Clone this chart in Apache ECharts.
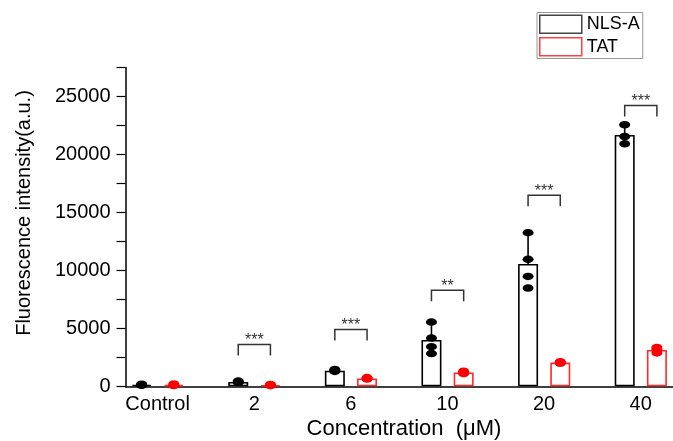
<!DOCTYPE html>
<html>
<head>
<meta charset="utf-8">
<script src="https://cdn.jsdelivr.net/npm/echarts@6/dist/echarts.min.js"></script>
<style>
html,body{margin:0;padding:0;background:#fff;}
#chart{width:673px;height:441px;}
</style>
</head>
<body>
<div id="chart"></div>
<script>
// ---- data ----
var categories = ['Control', '2', '6', '10', '20', '40'];
var seriesNames = ['NLS-A', 'TAT'];
var nlsMean = [130, 380, 1350, 4000, 10550, 21680];
var nlsSD   = [40, 70, 110, 1500, 2700, 850];
var tatMean = [120, 100, 680, 1200, 2050, 3130];
var tatSD   = [40, 40, 60, 90, 70, 200];
var nlsPoints = [[180, 130, 90], [450, 380, 320], [1450, 1350, 1280], [5540, 4160, 3420, 2820], [13250, 10950, 9480, 8470], [22560, 21550, 20920]];
var tatPoints = [[200, 120, 60], [160, 100, 50], [750, 680, 620], [1300, 1220, 1100], [2120, 2060, 1980], [3350, 3180, 2880]];
var sigY = [null, 3600, 4910, 8280, 16470, 24220];
var sigLabel = ['', '***', '***', '**', '***', '***'];
var yTicks = [0, 5000, 10000, 15000, 20000, 25000];

// ---- build slots: NLS, TAT, gap per group ----
var slots = [];
categories.forEach(function (c, i) {
  slots.push(c + ' NLS');
  slots.push(c + ' TAT');
  if (i < categories.length - 1) slots.push(c + ' gap');
});
var nlsBar = slots.map(function () { return '-'; });
var tatBar = slots.map(function () { return '-'; });
var nlsScatter = [], tatScatter = [], errData = [], sigData = [];
categories.forEach(function (c, i) {
  var a = i * 3, b = i * 3 + 1;
  nlsBar[a] = nlsMean[i];
  tatBar[b] = tatMean[i];
  nlsPoints[i].forEach(function (v) { nlsScatter.push([a, v]); });
  tatPoints[i].forEach(function (v) { tatScatter.push([b, v]); });
  errData.push([a, nlsMean[i], nlsSD[i], 0]);
  errData.push([b, tatMean[i], tatSD[i], 1]);
  if (sigY[i] != null) sigData.push([a, b, sigY[i], i]);
});

var FONT = 'Liberation Sans, Arial, sans-serif';
var chart = echarts.init(document.getElementById('chart'), null, {renderer: 'canvas'});
var errColors = ['#000000', '#ff2020'];

chart.setOption({
  animation: false,
  backgroundColor: '#ffffff',
  grid: {left: 125.5, right: -1, top: 67.5, bottom: 54.7, containLabel: false},
  legend: {
    orient: 'vertical',
    left: 537, top: 12.5,
    itemWidth: 42, itemHeight: 18, itemGap: 3,
    padding: [2, 3, 2, 2],
    borderColor: '#999', borderWidth: 1,
    icon: 'rect',
    textStyle: {fontFamily: FONT, fontSize: 18, color: '#000'},
    data: [
      {name: seriesNames[0], itemStyle: {color: '#fff', borderColor: '#444', borderWidth: 1.5}},
      {name: seriesNames[1], itemStyle: {color: '#fff', borderColor: '#ff4040', borderWidth: 1.5}}
    ]
  },
  xAxis: {
    type: 'category',
    data: slots,
    boundaryGap: true,
    axisLine: {lineStyle: {color: '#000', width: 1.5}},
    axisTick: {alignWithLabel: true, interval: 0, length: 5, lineStyle: {color: '#000', width: 1.2}},
    axisLabel: {
      interval: 0,
      margin: 8,
      fontFamily: FONT, fontSize: 20, color: '#000',
      padding: [0, 0, 0, 32],
      formatter: function (v, idx) { return idx % 3 === 0 ? categories[idx / 3] : ''; }
    },
    splitLine: {show: false}
  },
  yAxis: {
    type: 'value',
    min: 0, max: 27500, interval: 2500,
    axisLine: {show: true, lineStyle: {color: '#000', width: 1.5}},
    axisTick: {show: true, length: 9, lineStyle: {color: '#000', width: 1.2}},
    axisLabel: {
      margin: 15,
      fontFamily: FONT, fontSize: 20, color: '#000',
      formatter: function (v) { return yTicks.indexOf(v) >= 0 ? String(v) : ''; }
    },
    splitLine: {show: false}
  },
  graphic: [
    {type: 'text', x: 24, y: 213, rotation: Math.PI / 2,
     style: {text: 'Fluorescence intensity(a.u.)', font: '20px ' + FONT, fill: '#000', align: 'center', verticalAlign: 'middle'}},
    {type: 'text', x: 404, y: 429,
     style: {text: 'Concentration  (μM)', font: '22px ' + FONT, fill: '#000', align: 'center', verticalAlign: 'middle'}}
  ],
  series: [
    {name: seriesNames[0], type: 'bar', data: nlsBar, barWidth: 20, barGap: '-100%', z: 2,
     itemStyle: {color: 'rgba(255,255,255,0)', borderColor: '#000', borderWidth: 1.6}},
    {name: seriesNames[1], type: 'bar', data: tatBar, barWidth: 20, barGap: '-100%', z: 2,
     itemStyle: {color: 'rgba(255,255,255,0)', borderColor: '#ff2a2a', borderWidth: 1.6}},
    {name: 'err', type: 'custom', z: 3, clip: false, data: errData,
     renderItem: function (params, api) {
       var x = api.value(0), m = api.value(1), s = api.value(2), ci = api.value(3);
       var p = api.coord([x, m]), t = api.coord([x, m + s]);
       var st = {stroke: errColors[ci], lineWidth: 1.6};
       return {type: 'group', children: [
         {type: 'line', shape: {x1: p[0], y1: p[1], x2: t[0], y2: t[1]}, style: st},
         {type: 'line', shape: {x1: t[0] - 5, y1: t[1], x2: t[0] + 5, y2: t[1]}, style: st}
       ]};
     }},
    {name: 'NLS-A points', type: 'scatter', z: 4, data: nlsScatter, symbol: 'circle', symbolSize: [11, 7.5],
     itemStyle: {color: '#000', opacity: 1}},
    {name: 'TAT points', type: 'scatter', z: 4, data: tatScatter, symbol: 'circle', symbolSize: [11, 7.5],
     itemStyle: {color: '#ff0000', opacity: 1}},
    {name: 'sig', type: 'custom', z: 5, clip: false, data: sigData,
     renderItem: function (params, api) {
       var a = api.coord([api.value(0), api.value(2)]);
       var b = api.coord([api.value(1), api.value(2)]);
       var lbl = sigLabel[api.value(3)];
       var leg = 11;
       return {type: 'group', children: [
         {type: 'polyline', shape: {points: [[a[0], a[1] + leg], [a[0], a[1]], [b[0], b[1]], [b[0], b[1] + leg]]},
          style: {stroke: '#333', lineWidth: 1.5, fill: null}},
         {type: 'text', x: (a[0] + b[0]) / 2, y: a[1] - 4,
          style: {text: lbl, font: '16px ' + FONT, fill: '#333', align: 'center', verticalAlign: 'middle'}}
       ]};
     }}
  ]
});
</script>
</body>
</html>
